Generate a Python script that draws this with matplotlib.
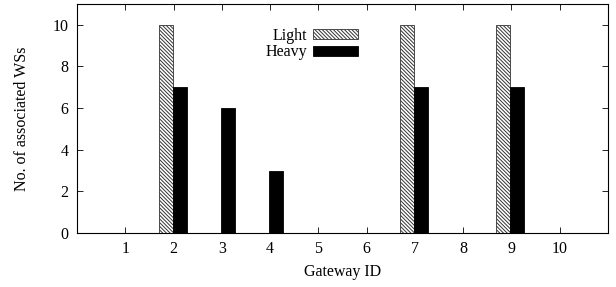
import matplotlib

matplotlib.use("Agg")
import matplotlib.pyplot as plt
import numpy as np

gateways = [1, 2, 3, 4, 5, 6, 7, 8, 9, 10]
light = [0, 10, 0, 0, 0, 0, 10, 0, 10, 0]
heavy = [0, 7, 6, 3, 0, 0, 7, 0, 7, 0]

plt.rcParams["font.family"] = ["Liberation Serif", "DejaVu Serif"]
plt.rcParams["font.size"] = 11.5
plt.rcParams["hatch.linewidth"] = 0.7

fig = plt.figure(figsize=(6.16, 2.87), dpi=100)
ax = fig.add_axes([0.125, 0.188, 0.862, 0.798])

x = np.array(gateways)
w = 0.29
ax.bar(x - 0.165, light, width=w, facecolor="white", edgecolor="#333333",
       hatch="\\" * 9, linewidth=0.6, label="Light")
ax.bar(x + 0.125, heavy, width=w, facecolor="black", edgecolor="black",
       linewidth=0.6, label="Heavy")

ax.set_xlim(0, 11)
ax.set_ylim(0, 11)
ax.set_xticks(gateways)
ax.set_yticks([0, 2, 4, 6, 8, 10])
ax.tick_params(direction="in", length=4, width=0.6, top=True, right=True, pad=6)
for s in ax.spines.values():
    s.set_linewidth(0.8)

ax.set_xlabel("Gateway ID", labelpad=5)
ax.set_ylabel("No. of associated WSs", labelpad=16)

leg = ax.legend(loc="upper right", bbox_to_anchor=(0.541, 0.925), frameon=False,
                markerfirst=False, handlelength=2.8, handleheight=0.55,
                handletextpad=0.35, labelspacing=0.05, borderaxespad=0)
for t in leg.get_texts():
    t.set_ha("right")

fig.savefig("out.png", dpi=100)
